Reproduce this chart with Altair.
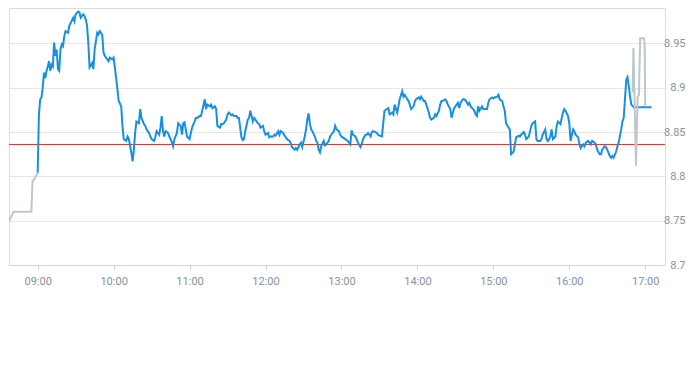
import altair as alt
import pandas as pd

DAY = "2024-01-02T"

# pre-market (grey)
pre_times = ["08:30", "08:41", "08:55", "08:56", "08:57", "09:00"]
pre_prices = [8.728, 8.760, 8.760, 8.795, 8.796, 8.804]

# regular session (blue)
session_times = [
    "09:00", "09:01", "09:02", "09:03", "09:04", "09:05", "09:06", "09:07", "09:08", "09:09",
    "09:10", "09:11", "09:12", "09:13", "09:14", "09:15", "09:16", "09:17", "09:18", "09:19",
    "09:20", "09:21", "09:22", "09:24", "09:25", "09:26", "09:28", "09:29", "09:30", "09:32",
    "09:33", "09:34", "09:36", "09:37", "09:38", "09:39", "09:40", "09:41", "09:43", "09:44",
    "09:45", "09:47", "09:48", "09:49", "09:51", "09:52", "09:53", "09:55", "09:56", "09:57",
    "09:59", "10:00", "10:01", "10:02", "10:03", "10:04", "10:06", "10:07", "10:08", "10:10",
    "10:11", "10:12", "10:14", "10:15", "10:16", "10:17", "10:18", "10:20", "10:21", "10:22",
    "10:24", "10:25", "10:26", "10:28", "10:29", "10:30", "10:32", "10:33", "10:34", "10:36",
    "10:37", "10:38", "10:39", "10:40", "10:41", "10:43", "10:44", "10:45", "10:46", "10:47",
    "10:48", "10:50", "10:51", "10:53", "10:54", "10:55", "10:56", "10:57", "10:58", "11:00",
    "11:01", "11:02", "11:04", "11:05", "11:06", "11:08", "11:09", "11:10", "11:12", "11:13",
    "11:14", "11:16", "11:17", "11:18", "11:20", "11:21", "11:22", "11:24", "11:25", "11:26",
    "11:27", "11:29", "11:30", "11:31", "11:33", "11:34", "11:35", "11:37", "11:38", "11:39",
    "11:41", "11:42", "11:43", "11:44", "11:46", "11:47", "11:48", "11:50", "11:51", "11:52",
    "11:54", "11:55", "11:56", "11:58", "11:59", "12:00", "12:02", "12:03", "12:04", "12:06",
    "12:07", "12:08", "12:10", "12:11", "12:12", "12:14", "12:15", "12:16", "12:17", "12:19",
    "12:20", "12:21", "12:23", "12:24", "12:25", "12:27", "12:28", "12:29", "12:31", "12:32",
    "12:33", "12:34", "12:35", "12:36", "12:37", "12:39", "12:40", "12:41", "12:42", "12:43",
    "12:44", "12:46", "12:47", "12:48", "12:50", "12:51", "12:52", "12:54", "12:55", "12:56",
    "12:58", "12:59", "13:00", "13:01", "13:03", "13:04", "13:05", "13:07", "13:08", "13:09",
    "13:11", "13:12", "13:13", "13:15", "13:16", "13:17", "13:19", "13:20", "13:21", "13:23",
    "13:24", "13:25", "13:27", "13:28", "13:29", "13:30", "13:32", "13:33", "13:34", "13:36",
    "13:37", "13:38", "13:40", "13:41", "13:42", "13:44", "13:45", "13:46", "13:48", "13:49",
    "13:50", "13:52", "13:53", "13:54", "13:55", "13:57", "13:58", "13:59", "14:01", "14:02",
    "14:03", "14:05", "14:06", "14:07", "14:09", "14:10", "14:11", "14:13", "14:14", "14:15",
    "14:17", "14:18", "14:19", "14:20", "14:22", "14:23", "14:24", "14:26", "14:27", "14:28",
    "14:29", "14:30", "14:32", "14:33", "14:34", "14:36", "14:37", "14:38", "14:40", "14:41",
    "14:42", "14:44", "14:45", "14:46", "14:47", "14:48", "14:49", "14:51", "14:52", "14:53",
    "14:55", "14:56", "14:57", "14:59", "15:00", "15:01", "15:03", "15:04", "15:05", "15:07",
    "15:08", "15:09", "15:10", "15:12", "15:13", "15:14", "15:16", "15:17", "15:18", "15:20",
    "15:21", "15:22", "15:24", "15:25", "15:26", "15:28", "15:29", "15:30", "15:31", "15:33",
    "15:34", "15:35", "15:37", "15:38", "15:39", "15:41", "15:42", "15:43", "15:44", "15:45",
    "15:46", "15:47", "15:49", "15:50", "15:51", "15:53", "15:54", "15:55", "15:56", "15:57",
    "15:59", "16:00", "16:01", "16:03", "16:04", "16:05", "16:07", "16:08", "16:09", "16:11",
    "16:12", "16:13", "16:15", "16:16", "16:17", "16:18", "16:20", "16:21", "16:22", "16:24",
    "16:25", "16:26", "16:28", "16:29", "16:30", "16:32", "16:33", "16:34", "16:35", "16:37",
    "16:38", "16:39", "16:41", "16:42", "16:43", "16:45", "16:46", "16:47", "16:48", "16:49",
    "16:51", "17:05",
]
session_prices = [
    8.804, 8.870, 8.887, 8.889, 8.900, 8.917, 8.911, 8.919, 8.924, 8.930,
    8.919, 8.926, 8.924, 8.951, 8.936, 8.943, 8.921, 8.919, 8.943, 8.949,
    8.947, 8.958, 8.964, 8.962, 8.970, 8.973, 8.979, 8.975, 8.983, 8.986,
    8.985, 8.979, 8.983, 8.981, 8.977, 8.970, 8.951, 8.923, 8.928, 8.921,
    8.943, 8.962, 8.960, 8.964, 8.960, 8.940, 8.936, 8.932, 8.930, 8.934,
    8.932, 8.934, 8.923, 8.911, 8.898, 8.885, 8.879, 8.857, 8.842, 8.840,
    8.845, 8.842, 8.827, 8.817, 8.830, 8.849, 8.862, 8.860, 8.876, 8.866,
    8.859, 8.857, 8.853, 8.849, 8.845, 8.842, 8.840, 8.845, 8.851, 8.847,
    8.855, 8.868, 8.851, 8.845, 8.851, 8.849, 8.845, 8.842, 8.838, 8.834,
    8.842, 8.849, 8.860, 8.857, 8.847, 8.860, 8.861, 8.853, 8.845, 8.842,
    8.849, 8.855, 8.862, 8.866, 8.866, 8.868, 8.868, 8.874, 8.887, 8.876,
    8.881, 8.879, 8.881, 8.877, 8.879, 8.876, 8.857, 8.855, 8.859, 8.859,
    8.860, 8.864, 8.870, 8.872, 8.869, 8.870, 8.868, 8.868, 8.866, 8.866,
    8.844, 8.841, 8.842, 8.851, 8.864, 8.866, 8.874, 8.862, 8.866, 8.864,
    8.860, 8.859, 8.855, 8.857, 8.851, 8.847, 8.849, 8.844, 8.845, 8.845,
    8.847, 8.846, 8.851, 8.847, 8.851, 8.849, 8.846, 8.844, 8.842, 8.840,
    8.837, 8.833, 8.830, 8.832, 8.830, 8.836, 8.838, 8.833, 8.845, 8.853,
    8.864, 8.871, 8.860, 8.853, 8.851, 8.845, 8.840, 8.838, 8.830, 8.827,
    8.834, 8.840, 8.835, 8.836, 8.840, 8.845, 8.847, 8.851, 8.857, 8.853,
    8.851, 8.847, 8.845, 8.844, 8.842, 8.841, 8.840, 8.836, 8.852, 8.847,
    8.845, 8.842, 8.838, 8.833, 8.836, 8.842, 8.847, 8.847, 8.849, 8.845,
    8.850, 8.851, 8.850, 8.849, 8.847, 8.846, 8.845, 8.860, 8.874, 8.876,
    8.877, 8.870, 8.872, 8.870, 8.881, 8.872, 8.879, 8.887, 8.896, 8.890,
    8.892, 8.887, 8.885, 8.881, 8.876, 8.879, 8.885, 8.887, 8.889, 8.887,
    8.890, 8.885, 8.885, 8.881, 8.872, 8.866, 8.864, 8.866, 8.870, 8.868,
    8.874, 8.881, 8.885, 8.885, 8.887, 8.885, 8.881, 8.876, 8.866, 8.872,
    8.877, 8.879, 8.883, 8.877, 8.883, 8.887, 8.887, 8.886, 8.881, 8.883,
    8.879, 8.876, 8.874, 8.870, 8.868, 8.879, 8.874, 8.879, 8.876, 8.876,
    8.876, 8.883, 8.887, 8.889, 8.888, 8.889, 8.890, 8.892, 8.887, 8.885,
    8.879, 8.874, 8.860, 8.855, 8.853, 8.825, 8.828, 8.836, 8.844, 8.846,
    8.845, 8.847, 8.850, 8.847, 8.842, 8.845, 8.851, 8.857, 8.860, 8.862,
    8.842, 8.840, 8.840, 8.842, 8.847, 8.853, 8.842, 8.840, 8.842, 8.845,
    8.853, 8.842, 8.845, 8.857, 8.862, 8.859, 8.866, 8.872, 8.876, 8.874,
    8.868, 8.860, 8.840, 8.853, 8.851, 8.847, 8.844, 8.836, 8.832, 8.836,
    8.834, 8.838, 8.840, 8.838, 8.836, 8.840, 8.838, 8.836, 8.830, 8.825,
    8.825, 8.830, 8.834, 8.833, 8.830, 8.823, 8.821, 8.823, 8.821, 8.828,
    8.834, 8.838, 8.853, 8.862, 8.866, 8.909, 8.912, 8.902, 8.890, 8.881,
    8.878, 8.878,
]

# after-hours (grey)
post_times = ["16:50:00", "16:50:40", "16:51:20", "16:52:40", "16:54:00",
              "16:55:00", "16:56:00", "16:59:00", "16:59:30", "17:00:00"]
post_prices = [8.895, 8.945, 8.900, 8.812, 8.890, 8.892, 8.956, 8.956, 8.950, 8.879]

prev_close = 8.836
y_ticks = [8.7, 8.75, 8.8, 8.85, 8.9, 8.95]
x_tick_hours = [9, 10, 11, 12, 13, 14, 15, 16, 17]

BLUE = "#1790e2"
GREY = "#bcc7cf"
RED = "#d23a2f"
LABEL = "#87929d"

session_df = pd.DataFrame({
    "t": [DAY + s for s in session_times],
    "price": session_prices,
})
ext_df = pd.DataFrame({
    "t": [DAY + s for s in pre_times] + [DAY + s for s in post_times],
    "price": pre_prices + post_prices,
    "seg": ["pre"] * len(pre_times) + ["post"] * len(post_times),
})
ref_df = pd.DataFrame({"price": [prev_close]})

x_scale = alt.Scale(
    domain=[
        alt.DateTime(year=2024, month=1, date=2, hours=8, minutes=37, seconds=21),
        alt.DateTime(year=2024, month=1, date=2, hours=17, minutes=15, seconds=36),
    ]
)
y_scale = alt.Scale(domain=[8.7, 8.990], nice=False, zero=False)

x_axis = alt.Axis(
    format="%H:%M",
    values=[alt.DateTime(year=2024, month=1, date=2, hours=h) for h in x_tick_hours],
    grid=False,
    domainColor="#ccd6e0",
    tickColor="#ccd6e0",
    tickSize=5,
    labelColor=LABEL,
    labelFontSize=11,
    labelFont="Roboto",
    labelPadding=5,
    title=None,
)
y_axis = alt.Axis(
    orient="right",
    values=y_ticks,
    format="~g",
    grid=True,
    gridColor="#e6e6e6",
    domain=False,
    ticks=False,
    tickSize=0,
    labelAlign="right",
    labelPadding=20,
    labelColor=LABEL,
    labelFontSize=11,
    labelFont="Roboto",
    title=None,
)

ref = alt.Chart(ref_df).mark_rule(color=RED, strokeWidth=1).encode(
    y=alt.Y("price:Q", scale=y_scale, axis=y_axis)
)

blue = alt.Chart(session_df).mark_line(color=BLUE, strokeWidth=2, clip=True).encode(
    x=alt.X("t:T", scale=x_scale, axis=x_axis),
    y=alt.Y("price:Q", scale=y_scale, axis=y_axis),
)

grey = alt.Chart(ext_df).mark_line(color=GREY, strokeWidth=2, clip=True).encode(
    x=alt.X("t:T", scale=x_scale, axis=x_axis),
    y=alt.Y("price:Q", scale=y_scale, axis=y_axis),
    detail="seg:N",
)

chart = (
    alt.layer(ref, blue, grey)
    .properties(width=656, height=257, padding={"left": 0, "top": 0, "right": 0, "bottom": 0})
    .configure_view(strokeWidth=0, strokeOpacity=0)
    .configure(background="white")
)

chart.save("out.html", embed_options={"renderer": "svg", "actions": False})
